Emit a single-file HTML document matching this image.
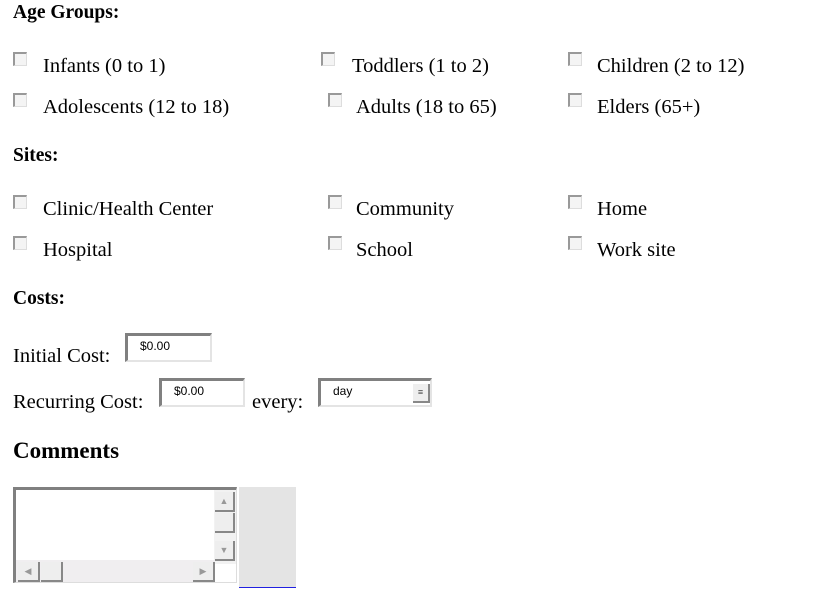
<!DOCTYPE html>
<html><head><style>
body{margin:0;width:835px;height:598px;background:#fff;position:relative;font-family:"Liberation Serif",serif;color:#000;overflow:hidden}
.a{position:absolute;white-space:nowrap;line-height:1}
.t{font-size:20.5px}
.h{font-size:19.5px;font-weight:bold}
.cb{position:absolute;width:11px;height:11px;border-top:2px solid #999;border-left:2px solid #999;border-right:1px solid #ddd;border-bottom:1px solid #ddd;background:#f4f4f4;box-sizing:content-box}
.in{position:absolute;box-sizing:border-box;border-top:3px solid #808080;border-left:3px solid #808080;border-right:2px solid #e4e4e4;border-bottom:2px solid #e4e4e4;background:#fff;font-family:"Liberation Sans",sans-serif;font-size:12px;padding:3px 0 0 12px}
</style></head><body>
<div class="a h" style="left:13px;top:3px">Age Groups:</div>
<div class="cb" style="left:13px;top:52px"></div><div class="a t" style="left:43px;top:56px">Infants (0 to 1)</div>
<div class="cb" style="left:321px;top:52px"></div><div class="a t" style="left:352px;top:56px">Toddlers (1 to 2)</div>
<div class="cb" style="left:568px;top:52px"></div><div class="a t" style="left:597px;top:56px">Children (2 to 12)</div>
<div class="cb" style="left:13px;top:93px"></div><div class="a t" style="left:43px;top:97px">Adolescents (12 to 18)</div>
<div class="cb" style="left:328px;top:93px"></div><div class="a t" style="left:356px;top:97px">Adults (18 to 65)</div>
<div class="cb" style="left:568px;top:93px"></div><div class="a t" style="left:597px;top:97px">Elders (65+)</div>

<div class="a h" style="left:13px;top:146px">Sites:</div>
<div class="cb" style="left:13px;top:195px"></div><div class="a t" style="left:43px;top:199px">Clinic/Health Center</div>
<div class="cb" style="left:328px;top:195px"></div><div class="a t" style="left:356px;top:199px">Community</div>
<div class="cb" style="left:568px;top:195px"></div><div class="a t" style="left:597px;top:199px">Home</div>
<div class="cb" style="left:13px;top:236px"></div><div class="a t" style="left:43px;top:240px">Hospital</div>
<div class="cb" style="left:328px;top:236px"></div><div class="a t" style="left:356px;top:240px">School</div>
<div class="cb" style="left:568px;top:236px"></div><div class="a t" style="left:597px;top:240px">Work site</div>

<div class="a h" style="left:13px;top:289px">Costs:</div>
<div class="a t" style="left:13px;top:346px">Initial Cost:</div>
<div class="in" style="left:125px;top:333px;width:87px;height:29px">$0.00</div>
<div class="a t" style="left:13px;top:392px">Recurring Cost:</div>
<div class="in" style="left:159px;top:378px;width:86px;height:29px">$0.00</div>
<div class="a t" style="left:252px;top:392px">every:</div>
<div class="in" style="left:318px;top:378px;width:114px;height:29px">day
<div style="position:absolute;right:0;top:3px;width:17px;height:19px;background:#eee;border-right:2px solid #888;border-bottom:2px solid #888;box-sizing:border-box;font-size:9px;text-align:center;line-height:17px;color:#444">&#8801;</div></div>

<div class="a" style="left:13px;top:439px;font-size:23px;font-weight:bold">Comments</div>
<div style="position:absolute;left:13px;top:487px;width:224px;height:96px;box-sizing:border-box;border-top:3px solid #808080;border-left:3px solid #808080;border-right:1px solid #ddd;border-bottom:1px solid #ddd;background:#fff">
 <div style="position:absolute;right:0;top:0;width:22px;height:74px;background:#f2f2f2"></div>
 <div style="position:absolute;right:1px;top:2px;width:20px;height:20px;background:#eee;border-right:2px solid #888;border-bottom:2px solid #888;box-sizing:border-box;color:#999;font-size:9px;text-align:center;line-height:18px">&#9650;</div>
 <div style="position:absolute;right:1px;top:23px;width:20px;height:20px;background:#eee;border-right:2px solid #888;border-bottom:2px solid #888;box-sizing:border-box"></div>
 <div style="position:absolute;right:1px;top:51px;width:20px;height:20px;background:#eee;border-right:2px solid #888;border-bottom:2px solid #888;box-sizing:border-box;color:#999;font-size:9px;text-align:center;line-height:18px">&#9660;</div>
 <div style="position:absolute;left:0;bottom:0;width:199px;height:22px;background:#f0eef0"></div>
 <div style="position:absolute;left:2px;bottom:0;width:22px;height:20px;background:#eee;border-right:2px solid #888;border-bottom:2px solid #888;box-sizing:border-box;color:#999;font-size:9px;text-align:center;line-height:18px">&#9664;</div>
 <div style="position:absolute;left:25px;bottom:0;width:22px;height:20px;background:#eee;border-right:2px solid #888;border-bottom:2px solid #888;box-sizing:border-box"></div>
 <div style="position:absolute;left:177px;bottom:0;width:22px;height:20px;background:#eee;border-right:2px solid #888;border-bottom:2px solid #888;box-sizing:border-box;color:#999;font-size:9px;text-align:center;line-height:18px">&#9654;</div>
</div>
<div style="position:absolute;left:239px;top:487px;width:57px;height:100px;background:#e4e4e4;border-bottom:1px solid #2020e0"></div>
</body></html>
